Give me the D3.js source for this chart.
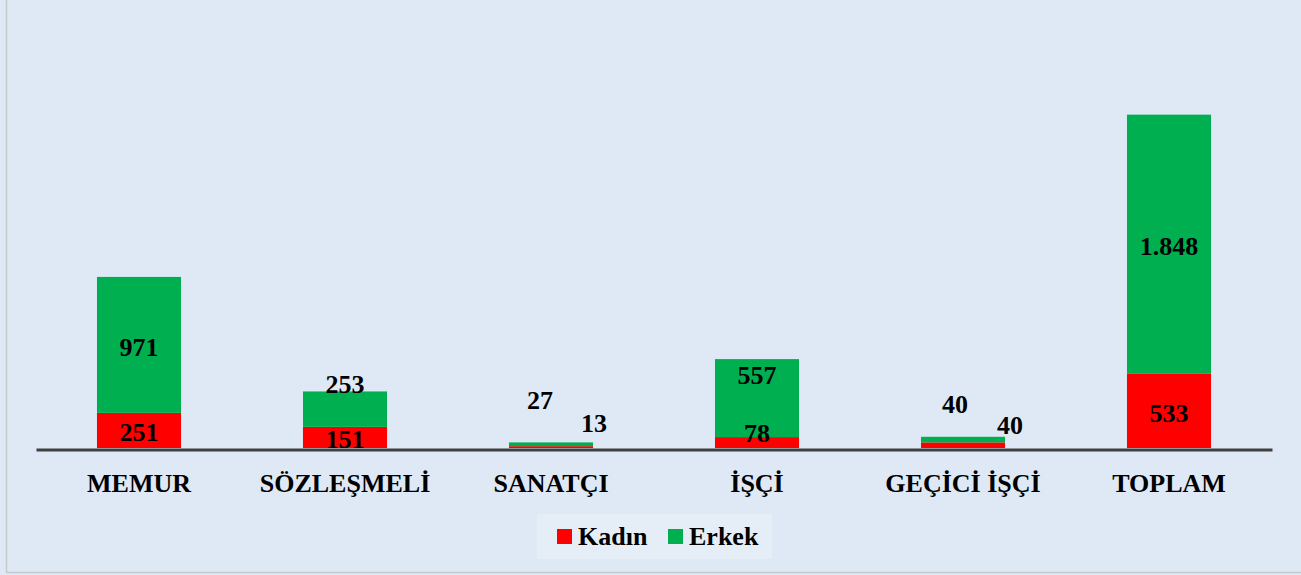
<!DOCTYPE html>
<html lang="tr">
	<head>
		<meta charset="utf-8">
		<title>Personel dağılımı</title>
		<script src="https://d3js.org/d3.v7.min.js"></script>
		<style type="text/css">
			body, html {
				margin: 0;
				background: #fff;
			}
			svg {
				display: block;
				font-family: "Liberation Serif", "Times New Roman", serif;
				font-weight: bold;
			}
		</style>
	</head>
	<body>
		<svg width="1301" height="575"></svg>
		<script type="text/javascript">
		// data
		var categories = ["MEMUR", "SÖZLEŞMELİ", "SANATÇI", "İŞÇİ", "GEÇİCİ İŞÇİ", "TOPLAM"];
		var seriesNames = ["Kadın", "Erkek"];
		var kadin = [251, 151, 13, 78, 40, 533];
		var erkek = [971, 253, 27, 557, 40, 1848];
		var colors = ["#ff0000", "#00b050"];

		// labels that were dragged by hand in the original, [dx, dy] from segment centre
		var nudges = {
			"SÖZLEŞMELİ|Erkek": [0, -27],
			"SANATÇI|Erkek": [-11, -46],
			"SANATÇI|Kadın": [43, -26],
			"İŞÇİ|Erkek": [0, -25],
			"İŞÇİ|Kadın": [0, -12],
			"GEÇİCİ İŞÇİ|Erkek": [-8, -38],
			"GEÇİCİ İŞÇİ|Kadın": [47, -22]
		};

		var W = 1301, H = 575;
		var svg = d3.select("svg");

		var rows = categories.map(function(c, i) {
			return {cat: c, "Kadın": kadin[i], "Erkek": erkek[i]};
		});
		var stack = d3.stack().keys(seriesNames)(rows);

		var x = d3.scaleBand()
			.domain(categories)
			.range([36, 1272])
			.paddingInner(0.592)
			.paddingOuter(0.296);
		var y = d3.scaleLinear()
			.domain([0, 2500])
			.range([448, 98]);

		var trFormat = d3.formatLocale({decimal: ",", thousands: ".", grouping: [3], currency: ["", "₺"]}).format(",d");

		// background + frame
		svg.append("rect")
			.attr("width", W).attr("height", H)
			.attr("fill", "#dee9f5");
		svg.append("rect")
			.attr("x", 6.5).attr("y", -5)
			.attr("width", W).attr("height", H + 2.5)
			.attr("fill", "none")
			.attr("stroke", "#c6c9cd")
			.attr("stroke-width", 1.5);

		// bars
		var layer = svg.selectAll("g.layer")
			.data(stack)
			.enter()
			.append("g")
			.attr("class", "layer")
			.attr("fill", function(d, i) { return colors[i]; });

		layer.selectAll("rect")
			.data(function(d) { return d; })
			.enter()
			.append("rect")
			.attr("x", function(d) { return x(d.data.cat); })
			.attr("width", x.bandwidth())
			.attr("y", function(d) { return y(d[1]); })
			.attr("height", function(d) { return y(d[0]) - y(d[1]); });

		// axis line
		var xAxis = d3.axisBottom(x).tickSize(0).tickPadding(24);
		var ax = svg.append("g")
			.attr("transform", "translate(0," + 449.5 + ")")
			.call(xAxis);
		ax.select(".domain")
			.attr("stroke", "#404040")
			.attr("stroke-width", 3);
		ax.selectAll("text")
			.attr("dy", null)
			.attr("y", 42.5)
			.attr("fill", "#000")
			.style("font-family", "'Liberation Serif', 'Times New Roman', serif")
			.style("font-weight", "bold")
			.style("font-size", "26px");

		// value labels
		stack.forEach(function(s) {
			svg.append("g")
				.selectAll("text")
				.data(s)
				.enter()
				.append("text")
				.attr("text-anchor", "middle")
				.attr("font-size", "26px")
				.attr("fill", "#000")
				.attr("x", function(d) {
					var n = nudges[d.data.cat + "|" + s.key] || [0, 0];
					return x(d.data.cat) + x.bandwidth() / 2 + n[0];
				})
				.attr("y", function(d) {
					var n = nudges[d.data.cat + "|" + s.key] || [0, 0];
					return (y(d[0]) + y(d[1])) / 2 + n[1] + 11;
				})
				.text(function(d) { return trFormat(d[1] - d[0]); });
		});

		// legend
		var legend = svg.append("g");
		legend.append("rect")
			.attr("x", 537).attr("y", 514)
			.attr("width", 235).attr("height", 45)
			.attr("fill", "#e5edf6");
		var legX = [557, 668];
		seriesNames.forEach(function(name, i) {
			legend.append("rect")
				.attr("x", legX[i]).attr("y", 529)
				.attr("width", 15).attr("height", 15)
				.attr("fill", colors[i]);
			legend.append("text")
				.attr("x", legX[i] + 21).attr("y", 545)
				.attr("font-size", "26px")
				.text(name);
		});
		</script>
	</body>
</html>
